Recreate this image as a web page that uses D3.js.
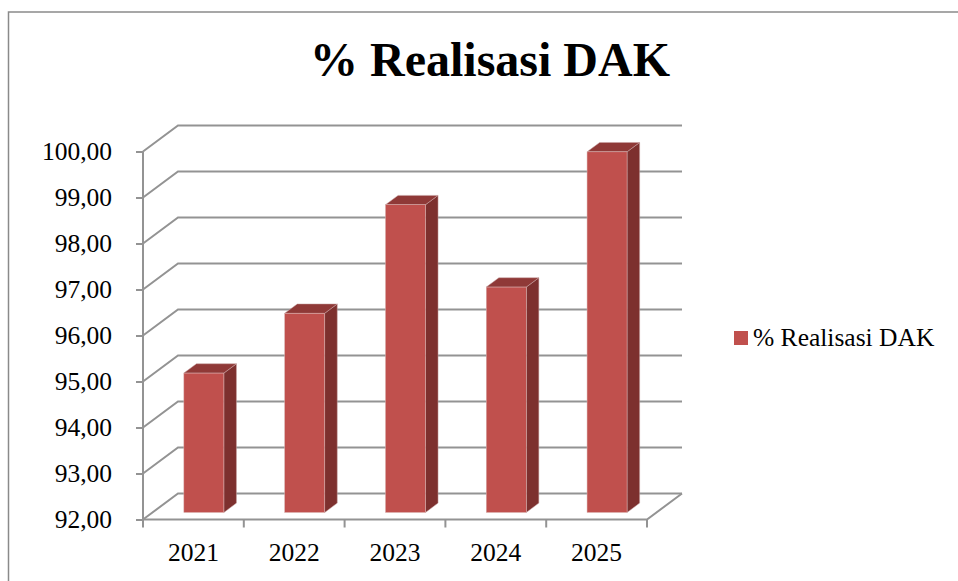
<!DOCTYPE html>
<html>
<head>
<meta charset="utf-8">
<script src="https://cdn.jsdelivr.net/npm/d3@7"></script>
<style>
  body { margin: 0; background: #fff; }
  svg { display: block; }
  svg text { font-family: "Liberation Serif", "Times New Roman", serif; }
</style>
</head>
<body>
<div id="chart"></div>
<script>
// data
const years = ['2021', '2022', '2023', '2024', '2025']
const realisasi = [95.03, 96.33, 98.69, 96.90, 99.84]
const yTicks = [92, 93, 94, 95, 96, 97, 98, 99, 100]
const seriesName = '% Realisasi DAK'

const width = 958, height = 581
const serif = '"Liberation Serif", "Times New Roman", serif'
const front = { left: 143, right: 647, top: 151.5, bottom: 519.5 }
const depth = { dx: 35, dy: -26 }     // full floor depth offset
const barDepth = { start: 0.27, size: 0.36 }
const colors = { front: '#C0504D', side: '#7D302E', top: '#8F3937', grid: '#939393' }

const svg = d3.select('#chart').append('svg')
    .attr('width', width)
    .attr('height', height)

// outer chart border (runs off the right and bottom edge)
svg.append('rect')
    .attr('x', 8.5).attr('y', 12)
    .attr('width', 1000).attr('height', 1000)
    .attr('fill', 'none')
    .attr('stroke', '#8a8a8a')
    .attr('stroke-width', 1.5)

svg.append('text')
    .attr('x', 490).attr('y', 76)
    .attr('text-anchor', 'middle')
    .attr('font-family', serif)
    .attr('font-weight', 'bold')
    .attr('font-size', 48)
    .text(seriesName)

const x = d3.scaleBand().domain(years).range([front.left, front.right])
const y = d3.scaleLinear().domain([92, 100]).range([front.bottom, front.top])

// gridlines: left wall diagonal + back wall horizontal
const grid = svg.append('g')
grid.selectAll('polyline').data(yTicks).join('polyline')
    .attr('points', d => [
        [front.left, y(d)],
        [front.left + depth.dx, y(d) + depth.dy],
        [front.right + depth.dx, y(d) + depth.dy]
    ].join(' '))
    .attr('fill', 'none')
    .attr('stroke', colors.grid)
    .attr('stroke-width', 2)

// floor front edge + right edge
svg.append('polyline')
    .attr('points', [
        [front.left, front.bottom],
        [front.right, front.bottom],
        [front.right + depth.dx, front.bottom + depth.dy]
    ].join(' '))
    .attr('fill', 'none')
    .attr('stroke', colors.grid)
    .attr('stroke-width', 2)

// y axis
const yAxis = d3.axisLeft(y)
    .tickValues(yTicks)
    .tickSize(7)
    .tickPadding(24)
    .tickFormat(d => d3.format('.2f')(d).replace('.', ','))

const yAxisG = svg.append('g')
    .attr('transform', `translate(${front.left}, 0)`)
    .call(yAxis)
    .attr('font-family', serif)
    .attr('font-size', 25.5)
yAxisG.select('.domain').attr('stroke', colors.grid).attr('stroke-width', 2)
    .attr('d', `M0,${front.top}V${front.bottom}`)
yAxisG.selectAll('.tick line').attr('stroke', colors.grid).attr('stroke-width', 2)
yAxisG.selectAll('.tick text')
    .attr('font-family', serif)
    .attr('fill', '#000')

// x axis: ticks sit on category boundaries
const xAxisG = svg.append('g')
    .attr('transform', `translate(0, ${front.bottom})`)
const bounds = years.map(d => x(d)).concat([front.right])
xAxisG.selectAll('line').data(bounds).join('line')
    .attr('x1', d => d).attr('x2', d => d)
    .attr('y1', 0).attr('y2', 8)
    .attr('stroke', colors.grid)
    .attr('stroke-width', 2)
xAxisG.selectAll('text').data(years).join('text')
    .attr('x', d => x(d) + x.bandwidth() / 2)
    .attr('y', 41)
    .attr('text-anchor', 'middle')
    .attr('font-family', serif)
    .attr('font-size', 25.5)
    .text(d => d)

// 3d bars
const barW = 40
const ox = barDepth.start * depth.dx, oy = barDepth.start * depth.dy
const sx = barDepth.size * depth.dx, sy = barDepth.size * depth.dy

const bars = svg.append('g').selectAll('g')
    .data(years.map((d, i) => ({ year: d, value: realisasi[i] })))
    .join('g')

const x0 = d => x(d.year) + x.bandwidth() / 2 + ox - barW / 2 + 1
const yTop = d => y(d.value) + oy
const yBot = y(92) + oy

bars.append('polygon')
    .attr('points', d => [
        [x0(d) + barW, yTop(d)], [x0(d) + barW + sx, yTop(d) + sy],
        [x0(d) + barW + sx, yBot + sy], [x0(d) + barW, yBot]
    ].join(' '))
    .attr('fill', colors.side)
    .attr('stroke', '#c9a5a4').attr('stroke-width', 0.5)

bars.append('polygon')
    .attr('points', d => [
        [x0(d), yTop(d)], [x0(d) + sx, yTop(d) + sy],
        [x0(d) + barW + sx, yTop(d) + sy], [x0(d) + barW, yTop(d)]
    ].join(' '))
    .attr('fill', colors.top)
    .attr('stroke', '#c9a5a4').attr('stroke-width', 0.5)

bars.append('rect')
    .attr('x', d => x0(d))
    .attr('y', d => yTop(d))
    .attr('width', barW)
    .attr('height', d => yBot - yTop(d))
    .attr('fill', colors.front)
    .attr('stroke', '#d9b3b2').attr('stroke-width', 0.5)

// legend
const legend = svg.append('g')
legend.append('rect')
    .attr('x', 734).attr('y', 331)
    .attr('width', 14).attr('height', 14)
    .attr('fill', colors.front)
legend.append('text')
    .attr('x', 753).attr('y', 346)
    .attr('font-family', serif)
    .attr('font-size', 25.5)
    .text(seriesName)
</script>
</body>
</html>
